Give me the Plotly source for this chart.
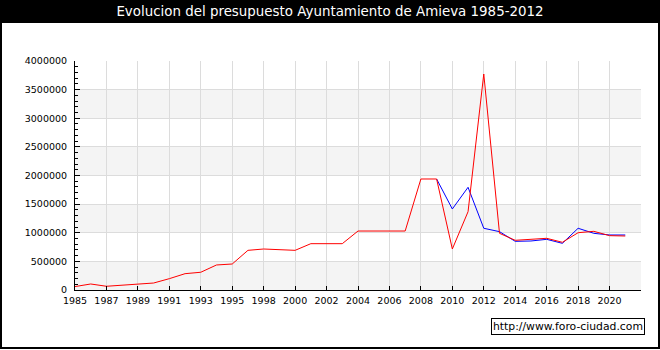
import plotly.graph_objects as go

# ---- data ----
years = ['1985', '1986', '1987', '1988', '1989', '1990', '1991', '1992', '1993',
         '1994', '1995', '1996', '1998', '1999', '2000', '2001', '2002', '2003',
         '2004', '2005', '2006', '2007', '2008', '2009', '2010', '2011', '2012',
         '2013', '2014', '2015', '2016', '2017', '2018', '2019', '2020', '2021']
red_values = [60000, 105000, 65000, 87000, 105000, 122000, 198000, 285000, 310000,
              437000, 454000, 693000, 716000, 699000, 693000, 809000, 809000, 809000,
              1030000, 1030000, 1030000, 1030000, 1939000, 1939000, 716000, 1368000, 3773000,
              990000, 868000, 885000, 903000, 833000, 1001000, 1025000, 949000, 943000]
blue_years = ['2009', '2010', '2011', '2012', '2013', '2014', '2015', '2016', '2017',
              '2018', '2019', '2020', '2021']
blue_values = [1939000, 1415000, 1794000, 1078000, 1019000, 850000, 856000, 885000, 815000,
               1078000, 990000, 961000, 961000]
axis_categories = years + ['2022']
tick_labels = axis_categories[::2][:-1] + ['']
title_text = 'Evolucion del presupuesto Ayuntamiento de Amieva 1985-2012'
watermark = 'http://www.foro-ciudad.com'

# ---- layout geometry ----
W, H = 660, 350
L, R, T, B = 75, 19, 61, 60
PW, PH = W - L - R, H - T - B


def px2x(px):
    return (px - L) / PW


def py2y(py):
    return (H - B - py) / PH


FONT = 'DejaVu Sans'

fig = go.Figure()
fig.add_trace(go.Scatter(x=blue_years, y=blue_values, mode='lines',
                         line=dict(color='#0000ff', width=1), showlegend=False))
fig.add_trace(go.Scatter(x=years, y=red_values, mode='lines',
                         line=dict(color='#ff0000', width=1), showlegend=False))

shapes = []
# alternating bands
step = 500000
for k in range(0, 8, 2):
    shapes.append(dict(type='rect', xref='paper', yref='y', x0=0, x1=1,
                       y0=k * step, y1=(k + 1) * step, fillcolor='#f4f4f4',
                       line=dict(width=0), layer='below'))
# title bar
shapes.append(dict(type='rect', xref='paper', yref='paper', x0=px2x(0), x1=px2x(W),
                   y0=py2y(23), y1=py2y(0), fillcolor='black', line=dict(width=0),
                   layer='above'))
# outer frame
shapes.append(dict(type='rect', xref='paper', yref='paper', x0=px2x(1), x1=px2x(W - 1),
                   y0=py2y(H - 2), y1=py2y(1), fillcolor='rgba(0,0,0,0)',
                   line=dict(color='black', width=2), layer='above'))

fig.update_layout(
    width=W, height=H,
    margin=dict(l=L, r=R, t=T, b=B, pad=0),
    paper_bgcolor='white', plot_bgcolor='white',
    shapes=shapes,
    title=dict(text=title_text, x=0.5, xref='container', xanchor='center',
               y=1 - 11.5 / H, yref='container', yanchor='middle',
               font=dict(family=FONT, size=13.4, color='white')),
    xaxis=dict(type='category', categoryorder='array', categoryarray=axis_categories,
               range=[0, 36], tickmode='array', tickvals=axis_categories[::2],
               ticktext=tick_labels, ticks='inside', ticklen=4, tickcolor='black',
               ticklabelstandoff=2,
               showline=True, linecolor='black', linewidth=1,
               showgrid=True, gridcolor='#dcdcdc', gridwidth=1, zeroline=False,
               tickfont=dict(family=FONT, size=9.5, color='black'), tickangle=0),
    yaxis=dict(range=[0, 4000000], dtick=500000, tick0=0, tickformat='d',
               ticks='inside', ticklen=5, tickcolor='black',
               ticklabelstandoff=5,
               minor=dict(dtick=100000, ticks='inside', ticklen=3, tickcolor='black',
                          showgrid=False),
               showline=True, linecolor='black', linewidth=1,
               showgrid=True, gridcolor='#dcdcdc', gridwidth=1, zeroline=False,
               tickfont=dict(family=FONT, size=9.5, color='black')),
    annotations=[dict(text=watermark, xref='paper', yref='paper',
                      x=px2x(645), xanchor='right', y=py2y(326.5), yanchor='middle',
                      showarrow=False, bgcolor='white', bordercolor='black',
                      borderwidth=1, borderpad=1,
                      font=dict(family=FONT, size=10.8, color='black'))],
)

fig.write_html('out.html')
